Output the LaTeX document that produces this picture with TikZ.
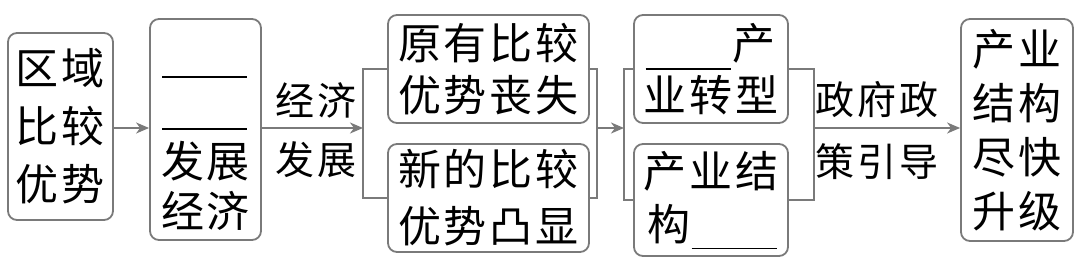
\documentclass[tikz,border=0pt]{standalone}
\usepackage{fontspec}
\newfontfamily\cjk{Noto Sans CJK SC}
\usetikzlibrary{arrows.meta}
\newcommand\cc[1]{\makebox[46pt]{#1}}
\newcommand\lc[1]{\makebox[42pt]{#1}}
\definecolor{lg}{HTML}{7A7A7A}
\begin{document}
\begin{tikzpicture}[x=1pt,y=-1pt,
  box/.style={draw=lg,line width=1.8pt,rounded corners=9pt,inner sep=0pt,align=center},
  txt/.style={inner sep=0pt,align=center},
  link/.style={draw=lg,line width=1.8pt},
  arr/.style={link,-{Stealth[length=13pt,width=11pt,inset=4pt]}},
  blank/.style={draw=black,line width=1.4pt}]
\useasboundingbox (0,0) rectangle (1080,259);
% boxes
\node[box,minimum width=105pt,minimum height=187pt,font=\cjk\fontsize{43}{58}\selectfont] (b1) at (60.5,126.5)
  {\cc{区}\cc{域}\\\cc{比}\cc{较}\\\cc{优}\cc{势}};
\node[box,minimum width=111pt,minimum height=221pt] (b2) at (205.5,129.5) {};
\node[txt,font=\cjk\fontsize{43}{50}\selectfont] (b2t) at (205.5,186) {\cc{发}\cc{展}\\\cc{经}\cc{济}};
\node[box,minimum width=201pt,minimum height=108pt,font=\cjk\fontsize{43}{52}\selectfont] (b3) at (488.5,69)
  {\cc{原}\cc{有}\cc{比}\cc{较}\\\cc{优}\cc{势}\cc{丧}\cc{失}};
\node[box,minimum width=201pt,minimum height=108pt,font=\cjk\fontsize{43}{57}\selectfont] (b4) at (488.5,198)
  {\cc{新}\cc{的}\cc{比}\cc{较}\\\cc{优}\cc{势}\cc{凸}\cc{显}};
\node[box,minimum width=154pt,minimum height=108pt,font=\cjk\fontsize{43}{52}\selectfont] (b5) at (711,69)
  {\rule[-10.5pt]{85pt}{1.5pt}\cc{产}\\\cc{业}\cc{转}\cc{型}};
\node[box,minimum width=154pt,minimum height=112pt,font=\cjk\fontsize{43}{53}\selectfont] (b6) at (711,200)
  {\cc{产}\cc{业}\cc{结}\\\cc{构}\rule[-9pt]{85pt}{1.5pt}};
\node[box,minimum width=112pt,minimum height=222pt,font=\cjk\fontsize{43}{54}\selectfont] (b7) at (1017,130)
  {\cc{产}\cc{业}\\\cc{结}\cc{构}\\\cc{尽}\cc{快}\\\cc{升}\cc{级}};
% blanks in box 2
\coordinate (r1a) at (162,77); \coordinate (r1b) at (247,77);
\coordinate (r2a) at (162,129); \coordinate (r2b) at (247,129);
\draw[blank] (r1a) -- (r1b);
\draw[blank] (r2a) -- (r2b);
% labels
\node[txt,font=\cjk\fontsize{39}{40}\selectfont] (l1) at (316,100) {\lc{经}\lc{济}};
\node[txt,font=\cjk\fontsize{39}{40}\selectfont] (l2) at (316,160) {\lc{发}\lc{展}};
\node[txt,font=\cjk\fontsize{39}{40}\selectfont] (l3) at (877,100) {\lc{政}\lc{府}\lc{政}};
\node[txt,font=\cjk\fontsize{39}{40}\selectfont] (l4) at (877,162) {\lc{策}\lc{引}\lc{导}};
% junctions
\coordinate (jL) at (363,128);
\coordinate (jR) at (597,128);
\coordinate (jL2) at (624,128);
\coordinate (jR2) at (814,128);
% connectors
\draw[arr] (b1.east |- 0,128) -- (b2.west |- 0,128);
\draw[arr] (b2.east |- jL) -- (jL);
\draw[link] (b3.west) -| (jL) |- (b4.west);
\draw[link] (b3.east) -| (jR) |- (b4.east);
\draw[arr] (jR) -- (jL2);
\draw[link] (b5.west) -| (jL2) |- (b6.west);
\draw[link] (b5.east) -| (jR2) |- (b6.east);
\draw[arr] (jR2) -- (b7.west |- jR2);
\end{tikzpicture}
\end{document}
